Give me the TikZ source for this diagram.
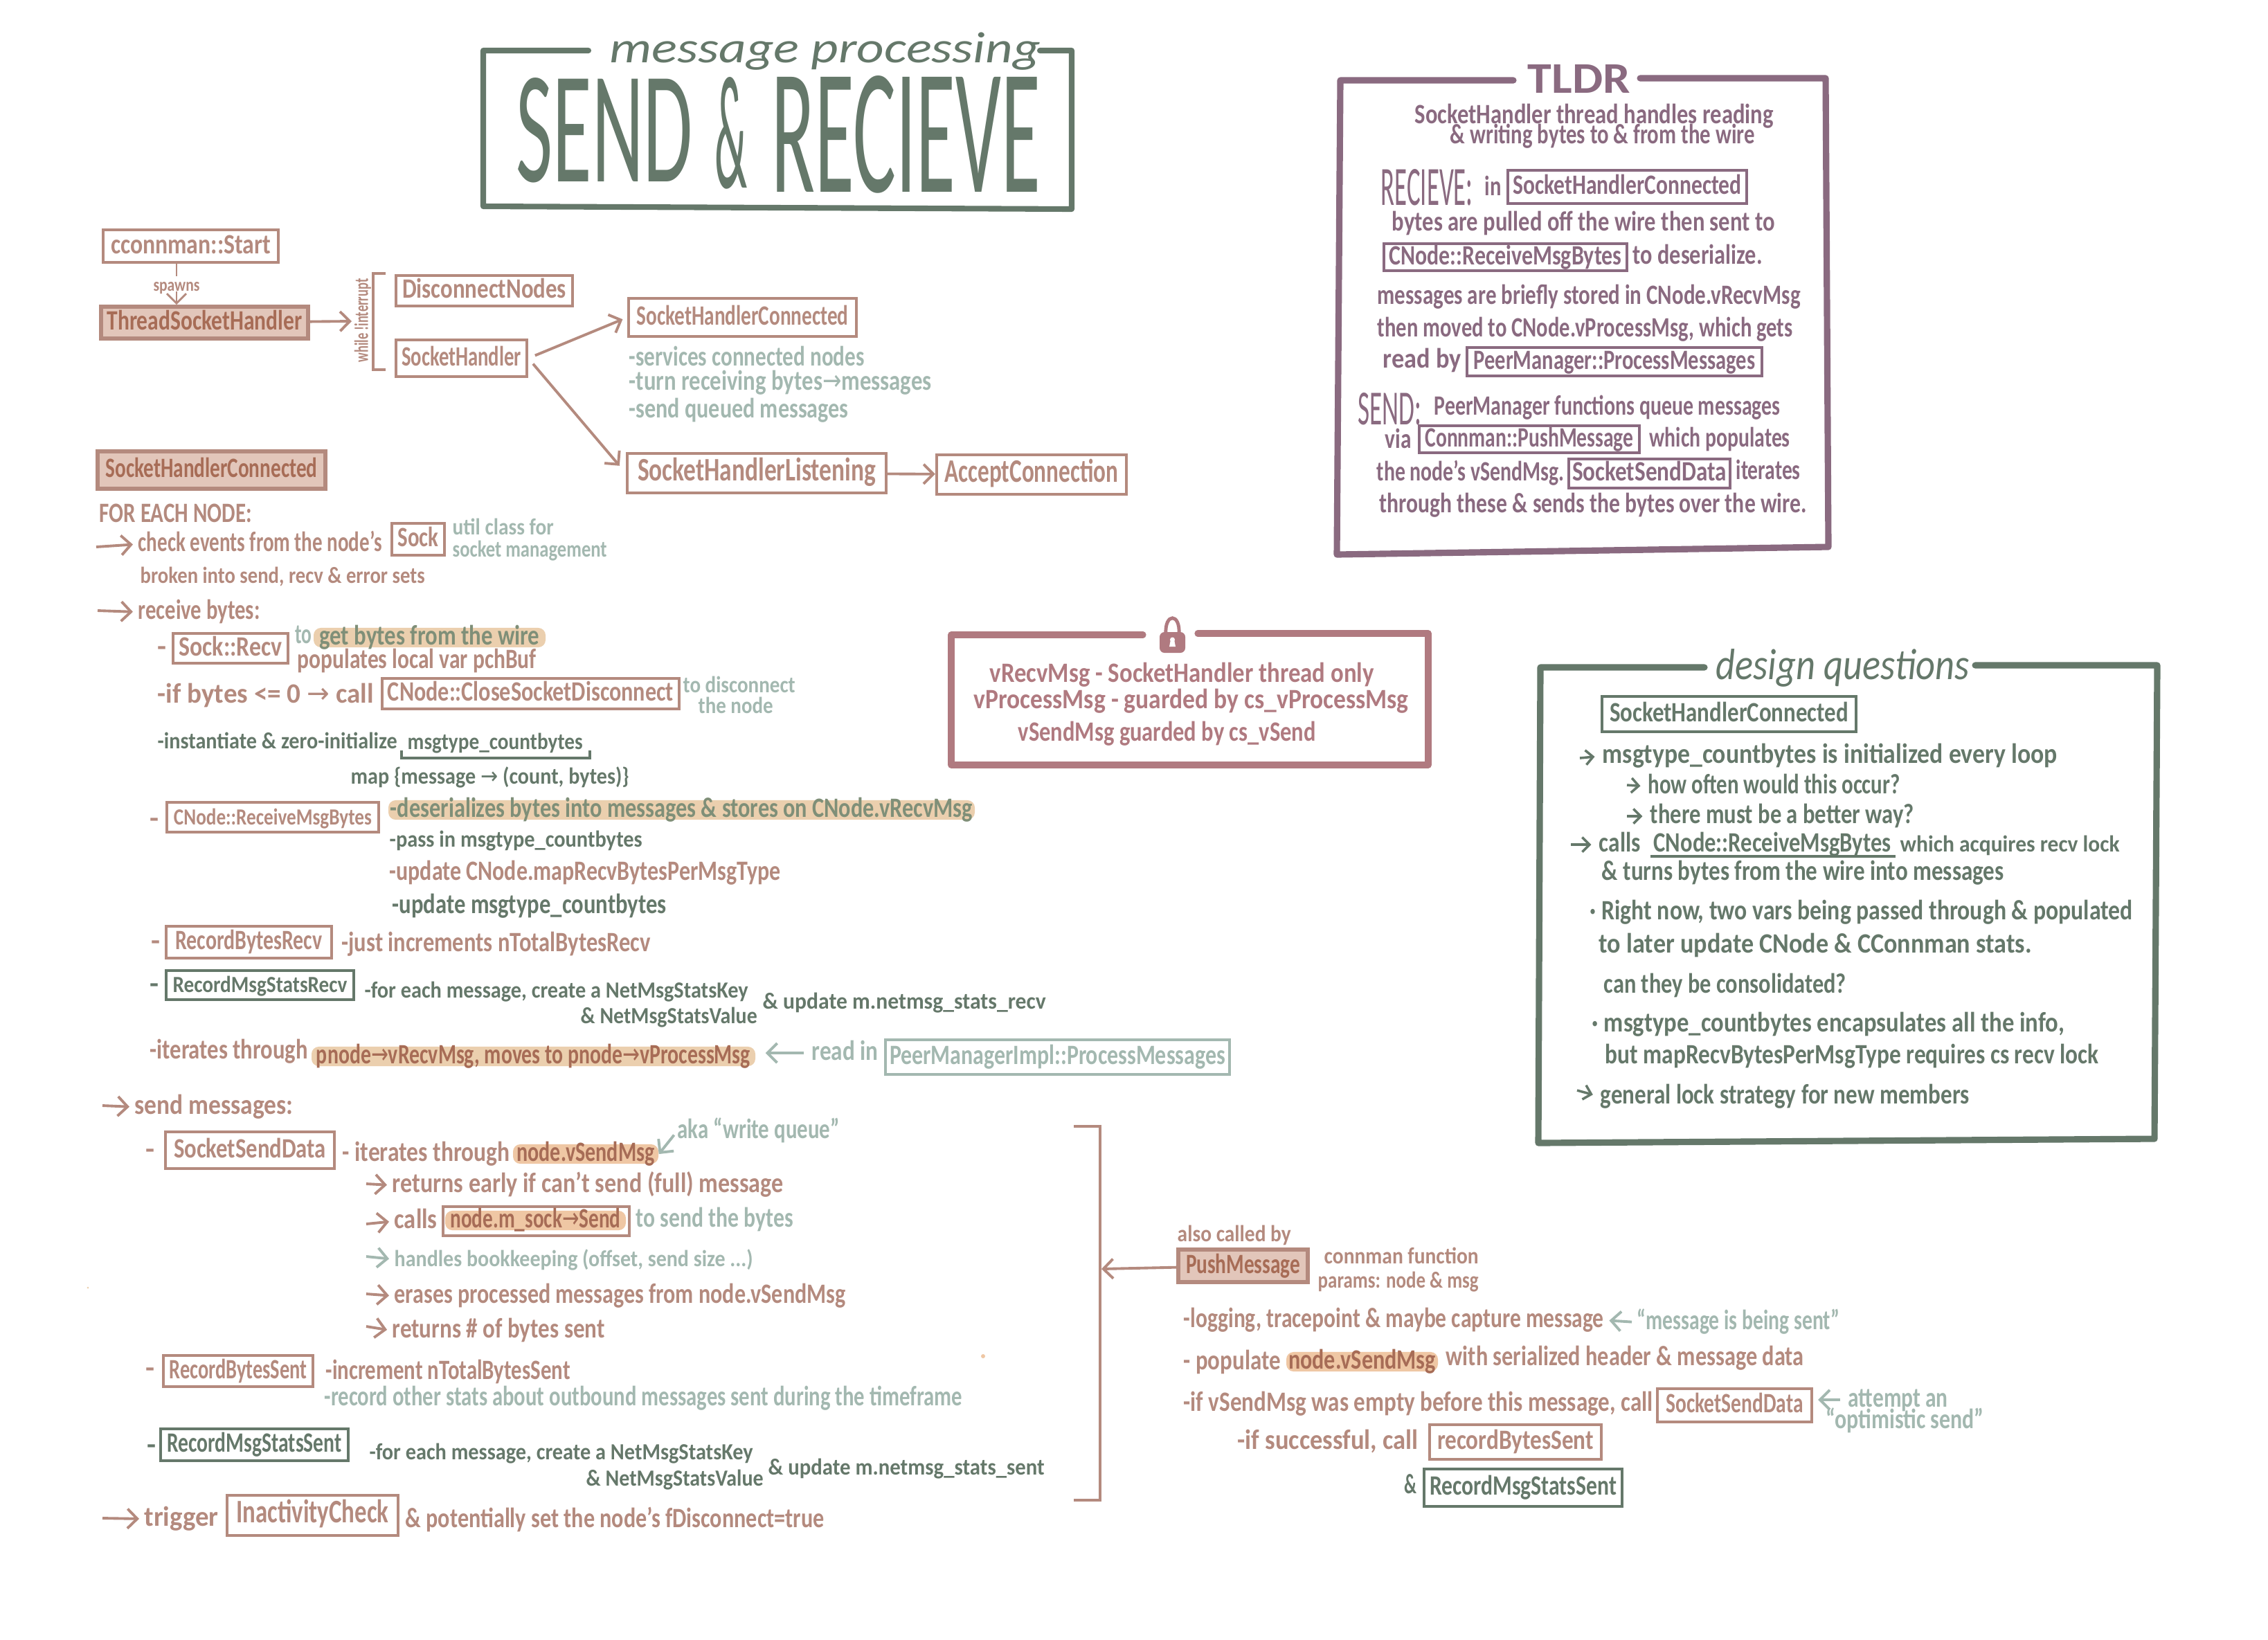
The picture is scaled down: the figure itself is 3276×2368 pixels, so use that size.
\documentclass[tikz,border=0pt]{standalone}
\usepackage{graphicx}
\usepackage{fontspec}
\setmainfont{Carlito}
\newfontfamily\symf{DejaVu Sans}
\usetikzlibrary{arrows.meta,positioning,calc}

\definecolor{rosec}{HTML}{B48A7E}
\definecolor{sagec}{HTML}{A3B8B0}
\definecolor{drkc}{HTML}{65786A}
\definecolor{plmc}{HTML}{8A6A80}
\definecolor{mavc}{HTML}{B07A80}
\definecolor{fillc}{HTML}{E2C6BA}
\definecolor{tanc}{HTML}{EBCFAE}
\definecolor{orgc}{HTML}{EFC7A4}
\definecolor{dkrose}{HTML}{A76C56}
\definecolor{oliv}{HTML}{7F8F78}

\newlength\pxu
\setlength\pxu{0.01cm}
\newcommand{\fw}[2]{\resizebox{#1\pxu}{\height}{#2}}
\newcommand{\fx}[3]{\resizebox{#1\pxu}{#2\pxu}{#3}}
\newcommand{\ar}{{\symf\mdseries →}}

\tikzset{
 txt/.style={anchor=west,inner sep=0pt,text height=6pt,text depth=0pt,font=\bfseries\fontsize{11.5}{13}\selectfont},
 ros/.style={txt,text=rosec},
 sag/.style={txt,text=sagec},
 drk/.style={txt,text=drkc},
 plm/.style={txt,text=plmc},
 mav/.style={txt,text=mavc},
 sm/.style={font=\bfseries\fontsize{9.5}{11}\selectfont},
 lg/.style={font=\bfseries\fontsize{13.5}{15}\selectfont},
 bigt/.style={anchor=west,inner sep=0pt,font=\fontsize{20}{20}\selectfont},
 script/.style={bigt,font=\itshape\fontsize{18}{18}\selectfont},
 boxb/.style={anchor=center,draw,line width=1.2pt,inner sep=0pt,text height=6pt,text depth=0pt,font=\bfseries\fontsize{11.5}{13}\selectfont},
 rosbox/.style={boxb,draw=rosec,text=rosec},
 rosfill/.style={boxb,draw=rosec,fill=fillc,text=dkrose,line width=1.6pt},
 drkbox/.style={boxb,draw=drkc,text=drkc},
 sagbox/.style={boxb,draw=sagec,text=sagec},
 plmbox/.style={boxb,draw=plmc,text=plmc,line width=1pt},
 hl/.style={anchor=center,fill=tanc,rounded corners=3pt,inner xsep=0pt,inner ysep=1pt,text height=6pt,text depth=0pt,font=\bfseries\fontsize{11.5}{13}\selectfont},
 rosarr/.style={draw=rosec,line width=1.1pt,-{Straight Barb[length=4pt,width=8pt]}},
 sagarr/.style={draw=sagec,line width=1.1pt,-{Straight Barb[length=4pt,width=8pt]}},
 drkarr/.style={draw=drkc,line width=1pt,-{Straight Barb[length=3pt,width=6pt]}},
 rosline/.style={draw=rosec,line width=1.1pt},
 frame/.style={line width=2.6pt,line cap=round,line join=round}
}

\begin{document}
\begin{tikzpicture}[x=0.01cm,y=-0.01cm]
\useasboundingbox (0,0) rectangle (3276,2368);
\fill[white] (0,0) rectangle (3276,2368);

% title
\draw[frame,draw=drkc,line width=2.3pt] (850,73) -- (698,73) -- (698,298) -- (1548,302) -- (1548,73) -- (1502,73);
\node[script,text=drkc] (msgproc) at (880,74) {\fw{622}{message processing}};
\node[bigt,text=drkc] (tsend) at (745,188) {\fx{255}{150}{SEND}};
\node[bigt,text=drkc] (tamp) at (1032,192) {\fx{47}{160}{\&}};
\node[bigt,text=drkc] (trecv) at (1114,194) {\fx{388}{168}{RECIEVE}};

% thread overview
\node[rosbox,minimum width=253\pxu,minimum height=47\pxu] (start) at (275.5,355.5) {\fw{231}{cconnman::Start}};
\node[ros,anchor=center,font=\bfseries\fontsize{7.5}{8}\selectfont] (spawns) at (255,410) {\fw{67}{spawns}};
\node[rosfill,minimum width=299\pxu,minimum height=46\pxu] (tsh) at (295.5,466) {\fw{282}{ThreadSocketHandler}};
\draw[rosline,line width=.8pt] (spawns.north |- start.south) -- (spawns.north);
\draw[rosarr,line width=.8pt] (spawns.south) -- (spawns.south |- tsh.north);

\coordinate (brk) at (508,464);
\draw[rosarr] (tsh) -- (brk);
\node[ros,anchor=center,rotate=90,font=\bfseries\fontsize{8}{9}\selectfont] (whileint) at (521,463) {\fw{121}{while !interrupt}};
\draw[rosline] (557,395) -- (539,395) -- (539,534) -- (557,534);

\node[rosbox,minimum width=255\pxu,minimum height=44\pxu] (discnodes) at (699.5,420) {\fw{237}{DisconnectNodes}};
\node[rosbox,minimum width=189\pxu,minimum height=53\pxu] (sockh) at (666.5,517.5) {\fw{173}{SocketHandler}};
\node[rosbox,minimum width=329\pxu,minimum height=55\pxu] (shc) at (1072.5,458.5) {\fw{306}{SocketHandlerConnected}};
\node[rosbox,minimum width=374\pxu,minimum height=57\pxu,lg] (shl) at (1093,683.5) {\fw{344}{SocketHandlerListening}};
\node[rosbox,minimum width=274\pxu,minimum height=57\pxu,lg] (accept) at (1490,685.5) {\fw{251}{AcceptConnection}};
\draw[rosarr,shorten <=3pt,shorten >=2pt] (sockh.east) -- (shc.west);
\draw[rosarr,shorten <=3pt,shorten >=4pt] (sockh.east) -- (shl.west);
\draw[rosarr] (shl) -- (accept);

\node[sag] (svc1) at (908,518) {\fw{340}{-services connected nodes}};
\node[sag] (svc2) at (908,553) {\fw{437}{-turn receiving bytes\ar messages}};
\node[sag] (svc3) at (908,593) {\fw{317}{-send queued messages}};

% SocketHandlerConnected notes
\node[rosfill,minimum width=329\pxu,minimum height=54\pxu] (shcl) at (305.5,679) {\fw{306}{SocketHandlerConnected}};
\node[ros] (foreach) at (143,744) {\fw{220}{FOR EACH NODE:}};
\node[ros] (check) at (199,786) {\fw{352}{check events from the node's}};
\node[rosbox,minimum width=76\pxu,minimum height=46\pxu] (sock) at (604,779) {\fw{59}{Sock}};
\node[sag,sm] (util1) at (653,762) {\fw{146}{util class for}};
\node[sag,sm] (util2) at (653,794) {\fw{223}{socket management}};
\node[ros,sm] (broken) at (202,832) {\fw{411}{broken into send, recv \& error sets}};
\node[ros] (recvb) at (199,884) {\fw{176}{receive bytes:}};

\node[rosbox,minimum width=166\pxu,minimum height=43\pxu] (sockrecv) at (333,936.5) {\fw{149}{Sock::Recv}};
\node[sag] (tow) at (426,919) {\fw{24}{to}};
\node[hl,text=oliv,minimum width=335\pxu] (getbytes) at (620.5,921) {\fw{318}{get bytes from the wire}};
\node[ros] (popul) at (429,955) {\fw{345}{populates local var pchBuf}};
\node[ros] (ifb) at (227,1005) {\fw{312}{-if bytes <= 0 \ar{} call}};
\node[rosbox,minimum width=429\pxu,minimum height=44\pxu] (closes) at (766.5,1002) {\fw{413}{CNode::CloseSocketDisconnect}};
\node[sag,sm] (disc1) at (986,990) {\fw{162}{to disconnect}};
\node[sag,sm] (disc2) at (1008,1020) {\fw{108}{the node}};

\node[drk,sm] (inst) at (227,1071) {\fw{346}{-instantiate \& zero-initialize}};
\node[drk,sm] (mct) at (588,1072) {\fw{253}{msgtype\_countbytes}};
\draw[draw=drkc,line width=.9pt] (580,1084) -- (580,1095) -- (852,1095) -- (852,1084);
\node[drk,sm] (mapm) at (506,1122) {\fw{402}{map \{message \ar{} (count, bytes)\}}};

\node[rosbox,minimum width=306\pxu,minimum height=43\pxu,sm] (rmb) at (394,1180.5) {\fw{286}{CNode::ReceiveMsgBytes}};
\node[hl,text=oliv,minimum width=847\pxu] (deser) at (984.5,1170) {\fw{841}{-deserializes bytes into messages \& stores on CNode.vRecvMsg}};
\node[drk,sm] (passin) at (562,1213) {\fw{365}{-pass in msgtype\_countbytes}};
\node[ros] (upd1) at (562,1261) {\fw{565}{-update CNode.mapRecvBytesPerMsgType}};
\node[drk] (upd2) at (566,1309) {\fw{396}{-update msgtype\_countbytes}};

\node[rosbox,minimum width=239\pxu,minimum height=46\pxu] (rbr) at (359.5,1361) {\fw{212}{RecordBytesRecv}};
\node[ros] (justinc) at (493,1364) {\fw{446}{-just increments nTotalBytesRecv}};
\node[drkbox,minimum width=271\pxu,minimum height=42\pxu,sm] (rmsr) at (375.5,1423) {\fw{252}{RecordMsgStatsRecv}};
\node[drk,sm] (fore1) at (526,1431) {\fw{554}{-for each message, create a NetMsgStatsKey}};
\node[drk,sm] (val1) at (838,1468) {\fw{255}{\& NetMsgStatsValue}};
\node[drk,sm] (upr) at (1101,1447) {\fw{409}{\& update m.netmsg\_stats\_recv}};

\node[ros] (iter1) at (216,1519) {\fw{228}{-iterates through}};
\node[hl,text=dkrose,minimum width=641\pxu] (pnode) at (770.5,1526) {\fw{627}{pnode\ar vRecvMsg, moves to pnode\ar vProcessMsg}};
\node[sag] (readin) at (1172,1521) {\fw{96}{read in}};
\node[sagbox,minimum width=497\pxu,minimum height=50\pxu] (pmi) at (1527.5,1527) {\fw{485}{PeerManagerImpl::ProcessMessages}};
\draw[sagarr,shorten <=3pt,shorten >=4pt] (readin.west) -- (pnode.east |- readin.west);

% send messages
\node[ros] (sendm) at (194,1599) {\fw{229}{send messages:}};
\node[rosbox,minimum width=244\pxu,minimum height=53\pxu] (ssd) at (361,1661.5) {\fw{220}{SocketSendData}};
\node[ros] (iter2) at (494,1667) {\fw{242}{- iterates through}};
\node[hl,text=dkrose,fill=orgc,minimum width=210\pxu] (vsend) at (846,1667) {\fw{199}{node.vSendMsg}};
\node[sag] (aka) at (978,1634) {\fw{234}{aka ``write queue''}};
\draw[sagarr,shorten <=2pt] (aka.west) -- (vsend.east);

\node[ros] (ret1) at (566,1712) {\fw{565}{returns early if can't send (full) message}};
\node[ros] (calls) at (569,1764) {\fw{62}{calls}};
\node[rosbox,minimum width=269\pxu,minimum height=42\pxu] (sendbox) at (774.5,1764) {};
\node[hl,text=dkrose,fill=orgc,minimum width=261\pxu] (msend) at (773.5,1763) {\fw{246}{node.m\_sock\ar Send}};
\node[sag] (tosend) at (918,1762) {\fw{227}{to send the bytes}};
\node[sag,sm] (books) at (569,1819) {\fw{518}{handles bookkeeping (offset, send size ...)}};
\node[ros] (erase) at (569,1872) {\fw{652}{erases processed messages from node.vSendMsg}};
\node[ros] (ret2) at (566,1922) {\fw{307}{returns \# of bytes sent}};

\node[rosbox,minimum width=216\pxu,minimum height=45\pxu] (rbs) at (344,1980.5) {\fw{199}{RecordBytesSent}};
\node[ros] (incr) at (470,1982) {\fw{353}{-increment nTotalBytesSent}};
\node[sag] (other) at (468,2020) {\fw{921}{-record other stats about outbound messages sent during the timeframe}};
\node[drkbox,minimum width=271\pxu,minimum height=46\pxu] (rmss) at (367.5,2087) {\fw{252}{RecordMsgStatsSent}};
\node[drk,sm] (fore2) at (533,2098) {\fw{554}{-for each message, create a NetMsgStatsKey}};
\node[drk,sm] (val2) at (846,2136) {\fw{256}{\& NetMsgStatsValue}};
\node[drk,sm] (ups) at (1109,2120) {\fw{399}{\& update m.netmsg\_stats\_sent}};

\node[ros] (trig) at (208,2194) {\fw{107}{trigger}};
\node[rosbox,minimum width=247\pxu,minimum height=58\pxu,lg] (inact) at (451.5,2189) {\fw{220}{InactivityCheck}};
\node[ros] (pot) at (585,2196) {\fw{605}{\& potentially set the node's fDisconnect=true}};

% dashes in front of the boxes
\foreach \n/\x/\y in {d1/227/937,d2/216/1185,d3/218/1362,d5/210/1663,d6/210/1979}
 \node[ros] (\n) at (\x,\y) {\fw{13}{-}};
\foreach \n/\x/\y in {d4/216/1424,d7/212/2090}
 \node[drk] (\n) at (\x,\y) {\fw{13}{-}};

% lead arrows
\foreach \n/\x/\y in {check/139/790,recvb/141/882,sendm/148/1597,trig/148/2193,ret1/529/1710,calls/529/1768,erase/529/1869,ret2/529/1916}
{
 \coordinate (\n s) at (\x,\y);
 \draw[rosarr,shorten >=2pt] (\n s) -- (\n.west);
}
\coordinate (bookss) at (529,1815);
\draw[sagarr,shorten >=2pt] (bookss) -- (books.west);

% bracket and PushMessage
\draw[rosline] (1551,1627) -- (1589,1627) -- (1589,2167) -- (1551,2167);
\coordinate (bigbrk) at (1591,1833);
\node[rosfill,minimum width=187\pxu,minimum height=47\pxu] (push) at (1795.5,1828.5) {\fw{165}{PushMessage}};
\draw[rosarr] (push) -- (bigbrk);
\node[ros,sm] (also) at (1700,1783) {\fw{164}{also called by}};
\node[ros,sm] (connf) at (1912,1815) {\fw{223}{connman function}};
\node[ros,sm] (params) at (1903,1850) {\fw{232}{params: node \& msg}};
\node[ros] (logg) at (1709,1907) {\fw{607}{-logging, tracepoint \& maybe capture message}};
\node[sag] (being) at (2364,1910) {\fw{293}{``message is being sent''}};
\draw[sagarr,shorten <=2pt,shorten >=2pt] (being.west) -- (logg.east);
\node[ros] (popl) at (1709,1968) {\fw{140}{- populate}};
\node[hl,text=dkrose,fill=orgc,minimum width=219\pxu] (vsend2) at (1967.5,1967) {\fw{213}{node.vSendMsg}};
\node[ros] (withs) at (2088,1962) {\fw{517}{with serialized header \& message data}};
\node[ros] (ifv) at (1709,2028) {\fw{678}{-if vSendMsg was empty before this message, call}};
\node[rosbox,minimum width=223\pxu,minimum height=48\pxu] (ssd2) at (2505.5,2030) {\fw{198}{SocketSendData}};
\node[sag] (attempt) at (2669,2022) {\fw{144}{attempt an}};
\node[sag] (optim) at (2637,2053) {\fw{228}{``optimistic send''}};
\draw[sagarr,shorten <=3pt,shorten >=2pt] (attempt.west) -- (ssd2.east |- attempt.west);
\node[ros] (ifs) at (1787,2083) {\fw{261}{-if successful, call}};
\node[rosbox,minimum width=248\pxu,minimum height=50\pxu] (recbs) at (2189,2083) {\fw{226}{recordBytesSent}};
\node[drk] (ampr) at (2028,2147) {\fw{18}{\&}};
\node[drkbox,minimum width=286\pxu,minimum height=54\pxu] (rmss2) at (2200,2149) {\fw{270}{RecordMsgStatsSent}};

% lock box
\draw[frame,draw=mavc] (1651,917) -- (1374,917) -- (1374,1105) -- (2063,1105) -- (2063,915) -- (1730,915);
\draw[draw=mavc,line width=1.4pt] (1684,916) .. controls (1682,885) and (1705,885) .. (1703,916);
\fill[mavc,rounded corners=2pt] (1675,913) rectangle (1712,943);
\fill[white] (1693.5,924) circle (3.5);
\fill[white] (1691,924) -- (1696,924) -- (1698,934) -- (1689,934) -- cycle;
\node[mav] (lk1) at (1429,975) {\fw{555}{vRecvMsg - SocketHandler thread only}};
\node[mav] (lk2) at (1406,1013) {\fw{628}{vProcessMsg - guarded by cs\_vProcessMsg}};
\node[mav] (lk3) at (1470,1060) {\fw{430}{vSendMsg guarded by cs\_vSend}};

% TLDR
\draw[frame,draw=plmc] (2186,116) -- (1936,116) -- (1931,801) -- (2641,790) -- (2637,113) -- (2369,113);
\node[bigt,text=plmc,font=\bfseries\fontsize{20}{20}\selectfont] (tldr) at (2206,114) {\fx{148}{41}{TLDR}};
\node[plm] (tl1) at (2043,168) {\fw{518}{SocketHandler thread handles reading}};
\node[plm] (tl2) at (2094,197) {\fw{440}{\& writing bytes to \& from the wire}};
\node[bigt,text=plmc] (trecvb) at (1994,271) {\fx{133}{52}{RECIEVE:}};
\node[plm] (tl3) at (2144,272) {\fw{24}{in}};
\node[plmbox,minimum width=345\pxu,minimum height=48\pxu] (tshc) at (2350.5,270) {\fw{330}{SocketHandlerConnected}};
\node[plm] (tl4) at (2010,323) {\fw{553}{bytes are pulled off the wire then sent to}};
\node[plmbox,minimum width=351\pxu,minimum height=39\pxu] (trmb) at (2174.5,371.5) {\fw{336}{CNode::ReceiveMsgBytes}};
\node[plm] (tl5) at (2358,371) {\fw{187}{to deserialize.}};
\node[plm] (tl6) at (1989,429) {\fw{611}{messages are briefly stored in CNode.vRecvMsg}};
\node[plm] (tl7) at (1989,476) {\fw{600}{then moved to CNode.vProcessMsg, which gets}};
\node[plm] (tl8) at (1997,521) {\fw{113}{read by}};
\node[plmbox,minimum width=426\pxu,minimum height=41\pxu] (tpm) at (2332,522.5) {\fw{407}{PeerManager::ProcessMessages}};
\node[bigt,text=plmc] (tsendb) at (1961,591) {\fx{92}{46}{SEND:}};
\node[plm] (tl9) at (2071,589) {\fw{500}{PeerManager functions queue messages}};
\node[plm] (tl10) at (2000,637) {\fw{38}{via}};
\node[plmbox,minimum width=318\pxu,minimum height=39\pxu] (tcm) at (2209,634.5) {\fw{301}{Connman::PushMessage}};
\node[plm] (tl11) at (2382,635) {\fw{203}{which populates}};
\node[plm] (tl12) at (1988,684) {\fw{271}{the node's vSendMsg.}};
\node[plmbox,minimum width=233\pxu,minimum height=42\pxu] (tssd) at (2382.5,684) {\fw{223}{SocketSendData}};
\node[plm] (tl13) at (2507,682) {\fw{93}{iterates}};
\node[plm] (tl14) at (1992,730) {\fw{617}{through these \& sends the bytes over the wire.}};

% design questions
\draw[frame,draw=drkc] (2462,964) -- (2225,964) -- (2222,1651) -- (3112,1645) -- (3116,961) -- (2853,961);
\node[script,text=drkc] (dq) at (2478,965) {\fw{366}{design questions}};
\node[drkbox,minimum width=367\pxu,minimum height=51\pxu] (dshc) at (2497.5,1031.5) {\fw{345}{SocketHandlerConnected}};
\node[drk] (dq1) at (2314,1092) {\fw{657}{msgtype\_countbytes is initialized every loop}};
\node[drk] (dq2) at (2380,1136) {\fw{364}{how often would this occur?}};
\node[drk] (dq3) at (2383,1179) {\fw{381}{there must be a better way?}};
\node[drk] (dq4) at (2309,1220) {\fw{60}{calls}};
\node[drk] (dq5) at (2388,1220) {\fw{343}{CNode::ReceiveMsgBytes}};
\draw[draw=drkc,line width=1pt] (2384,1237) -- (2738,1237);
\node[drk,sm] (dq6) at (2744,1220) {\fw{317}{which acquires recv lock}};
\node[drk] (dq7) at (2313,1261) {\fw{581}{\& turns bytes from the wire into messages}};
\node[drk] (dq8) at (2296,1318) {\fw{784}{· Right now, two vars being passed through \& populated}};
\node[drk] (dq9) at (2309,1366) {\fw{625}{to later update CNode \& CConnman stats.}};
\node[drk] (dq10) at (2316,1424) {\fw{350}{can they be consolidated?}};
\node[drk] (dq11) at (2299,1480) {\fw{682}{· msgtype\_countbytes encapsulates all the info,}};
\node[drk] (dq12) at (2318,1526) {\fw{713}{but mapRecvBytesPerMsgType requires cs recv lock}};
\node[drk] (dq13) at (2311,1584) {\fw{533}{general lock strategy for new members}};
\foreach \n/\x/\y in {dq1/2282/1095,dq2/2350/1134,dq3/2350/1179,dq4/2269/1220,dq13/2278/1575}
{
 \coordinate (\n s) at (\x,\y);
 \draw[drkarr,shorten >=3pt] (\n s) -- (\n.west);
}

% specks of ink
\fill[tanc] (127,1860) circle (1.5);
\fill[orgc] (1420,1959) circle (3);
\end{tikzpicture}
\end{document}
